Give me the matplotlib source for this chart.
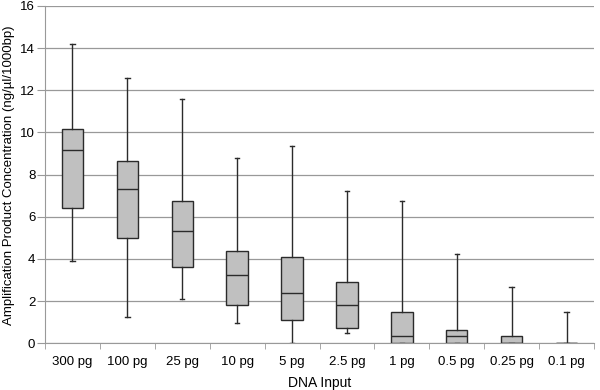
import matplotlib
matplotlib.use('Agg')
import matplotlib.pyplot as plt

plt.rcParams['font.family'] = ['Liberation Sans', 'DejaVu Sans']

# DNA input categories
labels = ['300 pg', '100 pg', '25 pg', '10 pg', '5 pg', '2.5 pg', '1 pg', '0.5 pg', '0.25 pg', '0.1 pg']

# box plot statistics (ng/ul/1000bp)
whislo = [3.9, 1.25, 2.1, 0.95, 0.0, 0.47, 0.0, 0.0, 0.0, 0.0]
q1     = [6.4, 5.0, 3.6, 1.82, 1.08, 0.73, 0.0, 0.0, 0.0, 0.0]
med    = [9.15, 7.3, 5.3, 3.23, 2.37, 1.79, 0.36, 0.36, 0.0, 0.0]
q3     = [10.15, 8.65, 6.75, 4.38, 4.07, 2.88, 1.5, 0.62, 0.33, 0.0]
whishi = [14.2, 12.6, 11.6, 8.77, 9.33, 7.22, 6.75, 4.24, 2.65, 1.47]

stats = []
for i in range(len(labels)):
    stats.append({'label': labels[i], 'whislo': whislo[i], 'q1': q1[i], 'med': med[i],
                  'q3': q3[i], 'whishi': whishi[i], 'fliers': []})

fig = plt.figure(figsize=(6, 3.9), dpi=100)
ax = fig.add_axes([0.075, 0.12, 0.915, 0.865])

dark = '#2b2b2b'
ax.bxp(stats, positions=range(1, 11), widths=0.39, patch_artist=True, showfliers=False,
       boxprops=dict(facecolor='#c0c0c0', edgecolor=dark, linewidth=1.0),
       medianprops=dict(color=dark, linewidth=1.0),
       whiskerprops=dict(color=dark, linewidth=1.0),
       capprops=dict(color=dark, linewidth=1.0), capwidths=0.08)

ax.set_xlim(0.5, 10.5)
ax.set_ylim(0, 16)
ax.set_yticks(range(0, 17, 2))
ax.yaxis.grid(True, color='#999999', linewidth=0.9)
ax.set_axisbelow(True)

# category boundary ticks below the axis
ax.set_xticks([i + 0.5 for i in range(0, 11)], minor=True)
ax.set_xticks(range(1, 11))
ax.set_xticklabels(labels)
ax.tick_params(axis='x', which='major', length=0, pad=9, labelsize=9.5)
ax.tick_params(axis='x', which='minor', length=4, color='#999999', direction='out')
ax.tick_params(axis='y', length=6, color='#999999', labelsize=9.5, pad=1)

for s in ['top', 'right']:
    ax.spines[s].set_visible(False)
ax.spines['left'].set_color('#999999')
ax.spines['bottom'].set_color('#999999')

ax.set_xlabel('DNA Input', fontsize=10)
ax.xaxis.set_label_coords(0.5, -0.098)
ax.set_ylabel('Amplification Product Concentration (ng/µl/1000bp)', fontsize=9.5)
ax.yaxis.set_label_coords(-0.055, 0.497)

fig.savefig('out.png', dpi=100)
